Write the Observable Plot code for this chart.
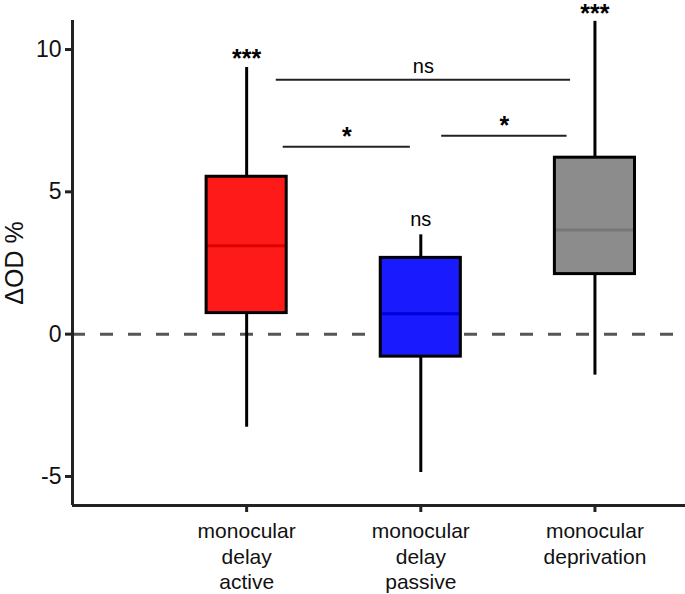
<!DOCTYPE html>
<html>
<head>
<meta charset="utf-8">
<script src="https://cdn.jsdelivr.net/npm/d3@7"></script>
<script src="https://cdn.jsdelivr.net/npm/@observablehq/plot@0.6"></script>
<style>
  html, body { margin: 0; padding: 0; background: #fff; }
  #chart svg { display: block; }
</style>
</head>
<body>
<div id="chart"></div>
<script>
// ---- data ----
const categories = ["monocular\ndelay\nactive", "monocular\ndelay\npassive", "monocular\ndeprivation"];
const positions = [1, 2, 3];
const whiskerLow = [-3.27, -4.86, -1.44];
const q1 = [0.74, -0.79, 2.11];
const median = [3.11, 0.72, 3.66];
const q3 = [5.53, 2.68, 6.20];
const whiskerHigh = [9.37, 3.49, 10.99];
const fills = ["#ff1a1a", "#1a1aff", "#8c8c8c"];
const medianColors = ["#dc0000", "#0000dc", "#777777"];
const groupSig = ["***", "ns", "***"];
const groupSigY = [9.83, 4.07, 11.42];

const bracketFrom = [1.17, 1.21, 2.12];
const bracketTo = [2.86, 1.94, 2.84];
const bracketY = [8.94, 6.58, 6.97];
const bracketLabel = ["ns", "*", "*"];
const bracketLabelY = [9.44, 7.11, 7.5];

const yTicks = [-5, 0, 5, 10];
const yLabel = "ΔOD %";

// ---- tables ----
const halfWidth = 0.23;
const boxes = positions.map((p, i) => ({
  x: p, x1: p - halfWidth, x2: p + halfWidth,
  lo: whiskerLow[i], q1: q1[i], med: median[i], q3: q3[i], hi: whiskerHigh[i],
  fill: fills[i], medColor: medianColors[i], sig: groupSig[i], sigY: groupSigY[i],
  star: groupSig[i].includes("*")
}));
const brackets = bracketFrom.map((f, i) => ({
  x1: f, x2: bracketTo[i], xm: (f + bracketTo[i]) / 2, y: bracketY[i],
  label: bracketLabel[i], ly: bracketLabelY[i], star: bracketLabel[i].includes("*")
}));

const yMin = -6.02, yMax = 11.02;
const font = "'Liberation Sans', Arial, Helvetica, sans-serif";

const starStyle = { fontSize: 25, fontWeight: "bold", dy: 5, lineAnchor: "middle", fill: "#000" };
const nsStyle = { fontSize: 20, dy: 1, lineAnchor: "middle", fill: "#000" };

const chart = Plot.plot({
  width: 685,
  height: 594,
  marginLeft: 72,
  marginRight: 0,
  marginTop: 20,
  marginBottom: 89,
  style: { fontFamily: font, color: "#111", background: "#fff", overflow: "visible" },
  x: { domain: [0, 3.52] },
  y: { domain: [yMin, yMax] },
  marks: [
    // zero dashed line
    Plot.ruleY([0], { stroke: "#555", strokeWidth: 3, strokeDasharray: "13,15" }),
    // whiskers
    Plot.ruleX(boxes, { x: "x", y1: "q3", y2: "hi", stroke: "#000", strokeWidth: 3 }),
    Plot.ruleX(boxes, { x: "x", y1: "lo", y2: "q1", stroke: "#000", strokeWidth: 3 }),
    // box fill
    Plot.rect(boxes, { x1: "x1", x2: "x2", y1: "q1", y2: "q3", fill: d => d.fill }),
    // median
    Plot.ruleY(boxes, { x1: "x1", x2: "x2", y: "med", stroke: d => d.medColor, strokeWidth: 3 }),
    // box outline
    Plot.rect(boxes, { x1: "x1", x2: "x2", y1: "q1", y2: "q3", fill: "none", stroke: "#000", strokeWidth: 3 }),
    // significance over groups
    Plot.text(boxes.filter(d => d.star), { x: "x", y: "sigY", text: "sig", ...starStyle }),
    Plot.text(boxes.filter(d => !d.star), { x: "x", y: "sigY", text: "sig", ...nsStyle }),
    // brackets
    Plot.ruleY(brackets, { x1: "x1", x2: "x2", y: "y", stroke: "#222", strokeWidth: 2 }),
    Plot.text(brackets.filter(d => d.star), { x: "xm", y: "ly", text: "label", ...starStyle }),
    Plot.text(brackets.filter(d => !d.star), { x: "xm", y: "ly", text: "label", ...nsStyle }),
    // axes
    Plot.axisY({ ticks: yTicks, tickFormat: d => String(d), tickSize: 7, tickPadding: 4,
      fontSize: 23, strokeWidth: 3, stroke: "#222", label: null }),
    Plot.axisX({ ticks: positions, tickFormat: (d, i) => categories[i], tickSize: 7, tickPadding: 8,
      fontSize: 21, lineHeight: 1.2, strokeWidth: 3, stroke: "#222", label: null }),
    Plot.ruleX([0], { y1: yMin, y2: yMax, stroke: "#222", strokeWidth: 3 }),
    Plot.ruleY([yMin], { stroke: "#222", strokeWidth: 3 }),
    Plot.text([yLabel], { frameAnchor: "left", textAnchor: "middle", rotate: -90, dx: -58, fontSize: 25, fill: "#111" })
  ]
});
document.getElementById("chart").appendChild(chart);
</script>
</body>
</html>
